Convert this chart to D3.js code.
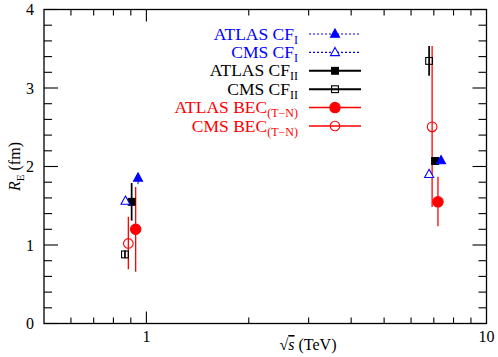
<!DOCTYPE html>
<html><head><meta charset="utf-8">
<script src="https://cdn.jsdelivr.net/npm/d3@7"></script>
<style>body{margin:0;background:#fff}svg{display:block}</style>
</head><body>
<svg id="c" width="498" height="357" font-family="'Liberation Serif', 'Times New Roman', Times, serif"></svg>
<script>
// x positions (TeV, slightly offset for visibility), values and errors (fm)
const atlasCF1 = {x:[0.945, 7.35], y:[1.855, 2.075], lo:[0.08, 0], hi:[0.02, 0]};
const cmsCF1   = {x:[0.868, 6.78], y:[1.56, 1.90], lo:[0, 0], hi:[0, 0]};
const atlasCF2 = {x:[0.905, 7.06], y:[1.55, 2.07], lo:[0.24, 0.05], hi:[0.24, 0.05]};
const cmsCF2   = {x:[0.865, 6.78], y:[0.88, 3.345], lo:[0.05, 0.19], hi:[0.05, 0.19]};
const atlasBEC = {x:[0.93, 7.2], y:[1.20, 1.55], lo:[0.54, 0.31], hi:[0.54, 0.32]};
const cmsBEC   = {x:[0.885, 6.92], y:[1.02, 2.505], lo:[0.33, 1.02], hi:[0.34, 1.03]};
const yTicks = [0, 1, 2, 3, 4];
const xTickLabels = [1, 10];

const svg = d3.select("#c");
const L=44, R=486.5, T=9.5, B=323.5;
const x = d3.scaleLog().domain([0.5, 10]).range([L, R]);
const y = d3.scaleLinear().domain([0, 4]).range([B, T]);

// frame
svg.append("rect").attr("x",L).attr("y",T).attr("width",R-L).attr("height",B-T)
  .attr("fill","none").attr("stroke","#000").attr("stroke-width",1.3);

// ticks
const xMinor = [0.6,0.7,0.8,0.9,2,3,4,5,6,7,8,9];
const xMajor = [1];
const g = svg.append("g").attr("stroke","#000").attr("stroke-width",1.1);
xMinor.forEach(v=>{
  g.append("line").attr("x1",x(v)).attr("x2",x(v)).attr("y1",B).attr("y2",B-6);
  g.append("line").attr("x1",x(v)).attr("x2",x(v)).attr("y1",T).attr("y2",T+6);
});
xMajor.forEach(v=>{
  g.append("line").attr("x1",x(v)).attr("x2",x(v)).attr("y1",B).attr("y2",B-12);
  g.append("line").attr("x1",x(v)).attr("x2",x(v)).attr("y1",T).attr("y2",T+12);
});
d3.range(0, 4.0001, 0.2).forEach(v=>{
  const major = Math.abs(v - Math.round(v)) < 1e-6;
  const len = major ? 14 : 8;
  g.append("line").attr("x1",L).attr("x2",L+len).attr("y1",y(v)).attr("y2",y(v));
  g.append("line").attr("x1",R).attr("x2",R-len).attr("y1",y(v)).attr("y2",y(v));
});

// tick labels
yTicks.forEach(v=>{
  svg.append("text").attr("x",34).attr("y",y(v)+5.5).attr("text-anchor","end")
    .attr("font-size",16).text(v);
});
xTickLabels.forEach(v=>{
  svg.append("text").attr("x",x(v)).attr("y",342).attr("text-anchor","middle")
    .attr("font-size",16).text(v);
});

// axis titles
const xt = svg.append("text").attr("x",308).attr("y",350).attr("text-anchor","middle").attr("font-size",16);
xt.append("tspan").text("√");
xt.append("tspan").attr("font-style","italic").attr("text-decoration","overline").text("s");
xt.append("tspan").text(" (TeV)");

const yt = svg.append("text").attr("transform","translate(20,"+y(2)+") rotate(-90)")
  .attr("text-anchor","middle").attr("font-size",16);
yt.append("tspan").attr("font-style","italic").text("R");
yt.append("tspan").attr("font-size",11).attr("dy",4).text("E");
yt.append("tspan").attr("dy",-4).text(" (fm)");

// markers
function marker(sel, kind, cx, cy, color){
  if(kind.shape==="tri"){
    sel.append("path").attr("d",`M${cx},${cy-5}L${cx+4.5},${cy+3.2}L${cx-4.5},${cy+3.2}Z`)
      .attr("fill",kind.open?"#fff":color).attr("stroke",color).attr("stroke-width",1.1);
  } else if(kind.shape==="sq"){
    sel.append("rect").attr("x",cx-3.4).attr("y",cy-3.4).attr("width",6.8).attr("height",6.8)
      .attr("fill",kind.open?"none":color).attr("stroke",color).attr("stroke-width",1.1);
  } else {
    sel.append("circle").attr("cx",cx).attr("cy",cy).attr("r",kind.open?4.8:5.2)
      .attr("fill",kind.open?"none":color).attr("stroke",color).attr("stroke-width",1.1);
  }
}

const series = [
  {d:cmsBEC,   color:"#ff0000", kind:{shape:"circ", open:true},  lw:1.3, dash:null, name:"CMS BEC", sub:"(T−N)"},
  {d:atlasBEC, color:"#ff0000", kind:{shape:"circ", open:false}, lw:1.3, dash:null, name:"ATLAS BEC", sub:"(T−N)"},
  {d:cmsCF2,   color:"#000000", kind:{shape:"sq", open:true},    lw:1.7, dash:null, name:"CMS CF", sub:"II"},
  {d:atlasCF2, color:"#000000", kind:{shape:"sq", open:false},   lw:1.7, dash:null, name:"ATLAS CF", sub:"II"},
  {d:cmsCF1,   color:"#0000ff", kind:{shape:"tri", open:true},   lw:1.0, dash:"2,2", name:"CMS CF", sub:"I"},
  {d:atlasCF1, color:"#0000ff", kind:{shape:"tri", open:false},  lw:1.0, dash:"2,2", name:"ATLAS CF", sub:"I"}
];

const pts = svg.append("g");
series.forEach(s=>{
  const d = s.d;
  d.x.forEach((xv,i)=>{
    if(d.lo[i]>0 || d.hi[i]>0){
      pts.append("line").attr("x1",x(xv)).attr("x2",x(xv))
        .attr("y1",y(d.y[i]+d.hi[i])).attr("y2",y(d.y[i]-d.lo[i]))
        .attr("stroke",s.color).attr("stroke-width",s.lw);
    }
  });
});
series.forEach(s=>{
  const d = s.d;
  d.x.forEach((xv,i)=> marker(pts, s.kind, x(xv), y(d.y[i]), s.color));
});

// legend (order top to bottom)
const legOrder = [5,4,3,2,1,0];
legOrder.forEach((si,k)=>{
  const s = series[si];
  const yy = 34 + k*18.4;
  const t = svg.append("text").attr("x",298).attr("y",yy+5.5).attr("text-anchor","end")
    .attr("font-size",17.5).attr("fill",s.color);
  t.append("tspan").text(s.name);
  t.append("tspan").attr("font-size",12).attr("dy",4).text(s.sub);
  svg.append("line").attr("x1",309).attr("x2",361).attr("y1",yy).attr("y2",yy)
    .attr("stroke",s.color).attr("stroke-width",s.lw+0.2).attr("stroke-dasharray",s.dash);
  marker(svg, s.kind, 335, yy, s.color);
});
</script>
</body></html>
